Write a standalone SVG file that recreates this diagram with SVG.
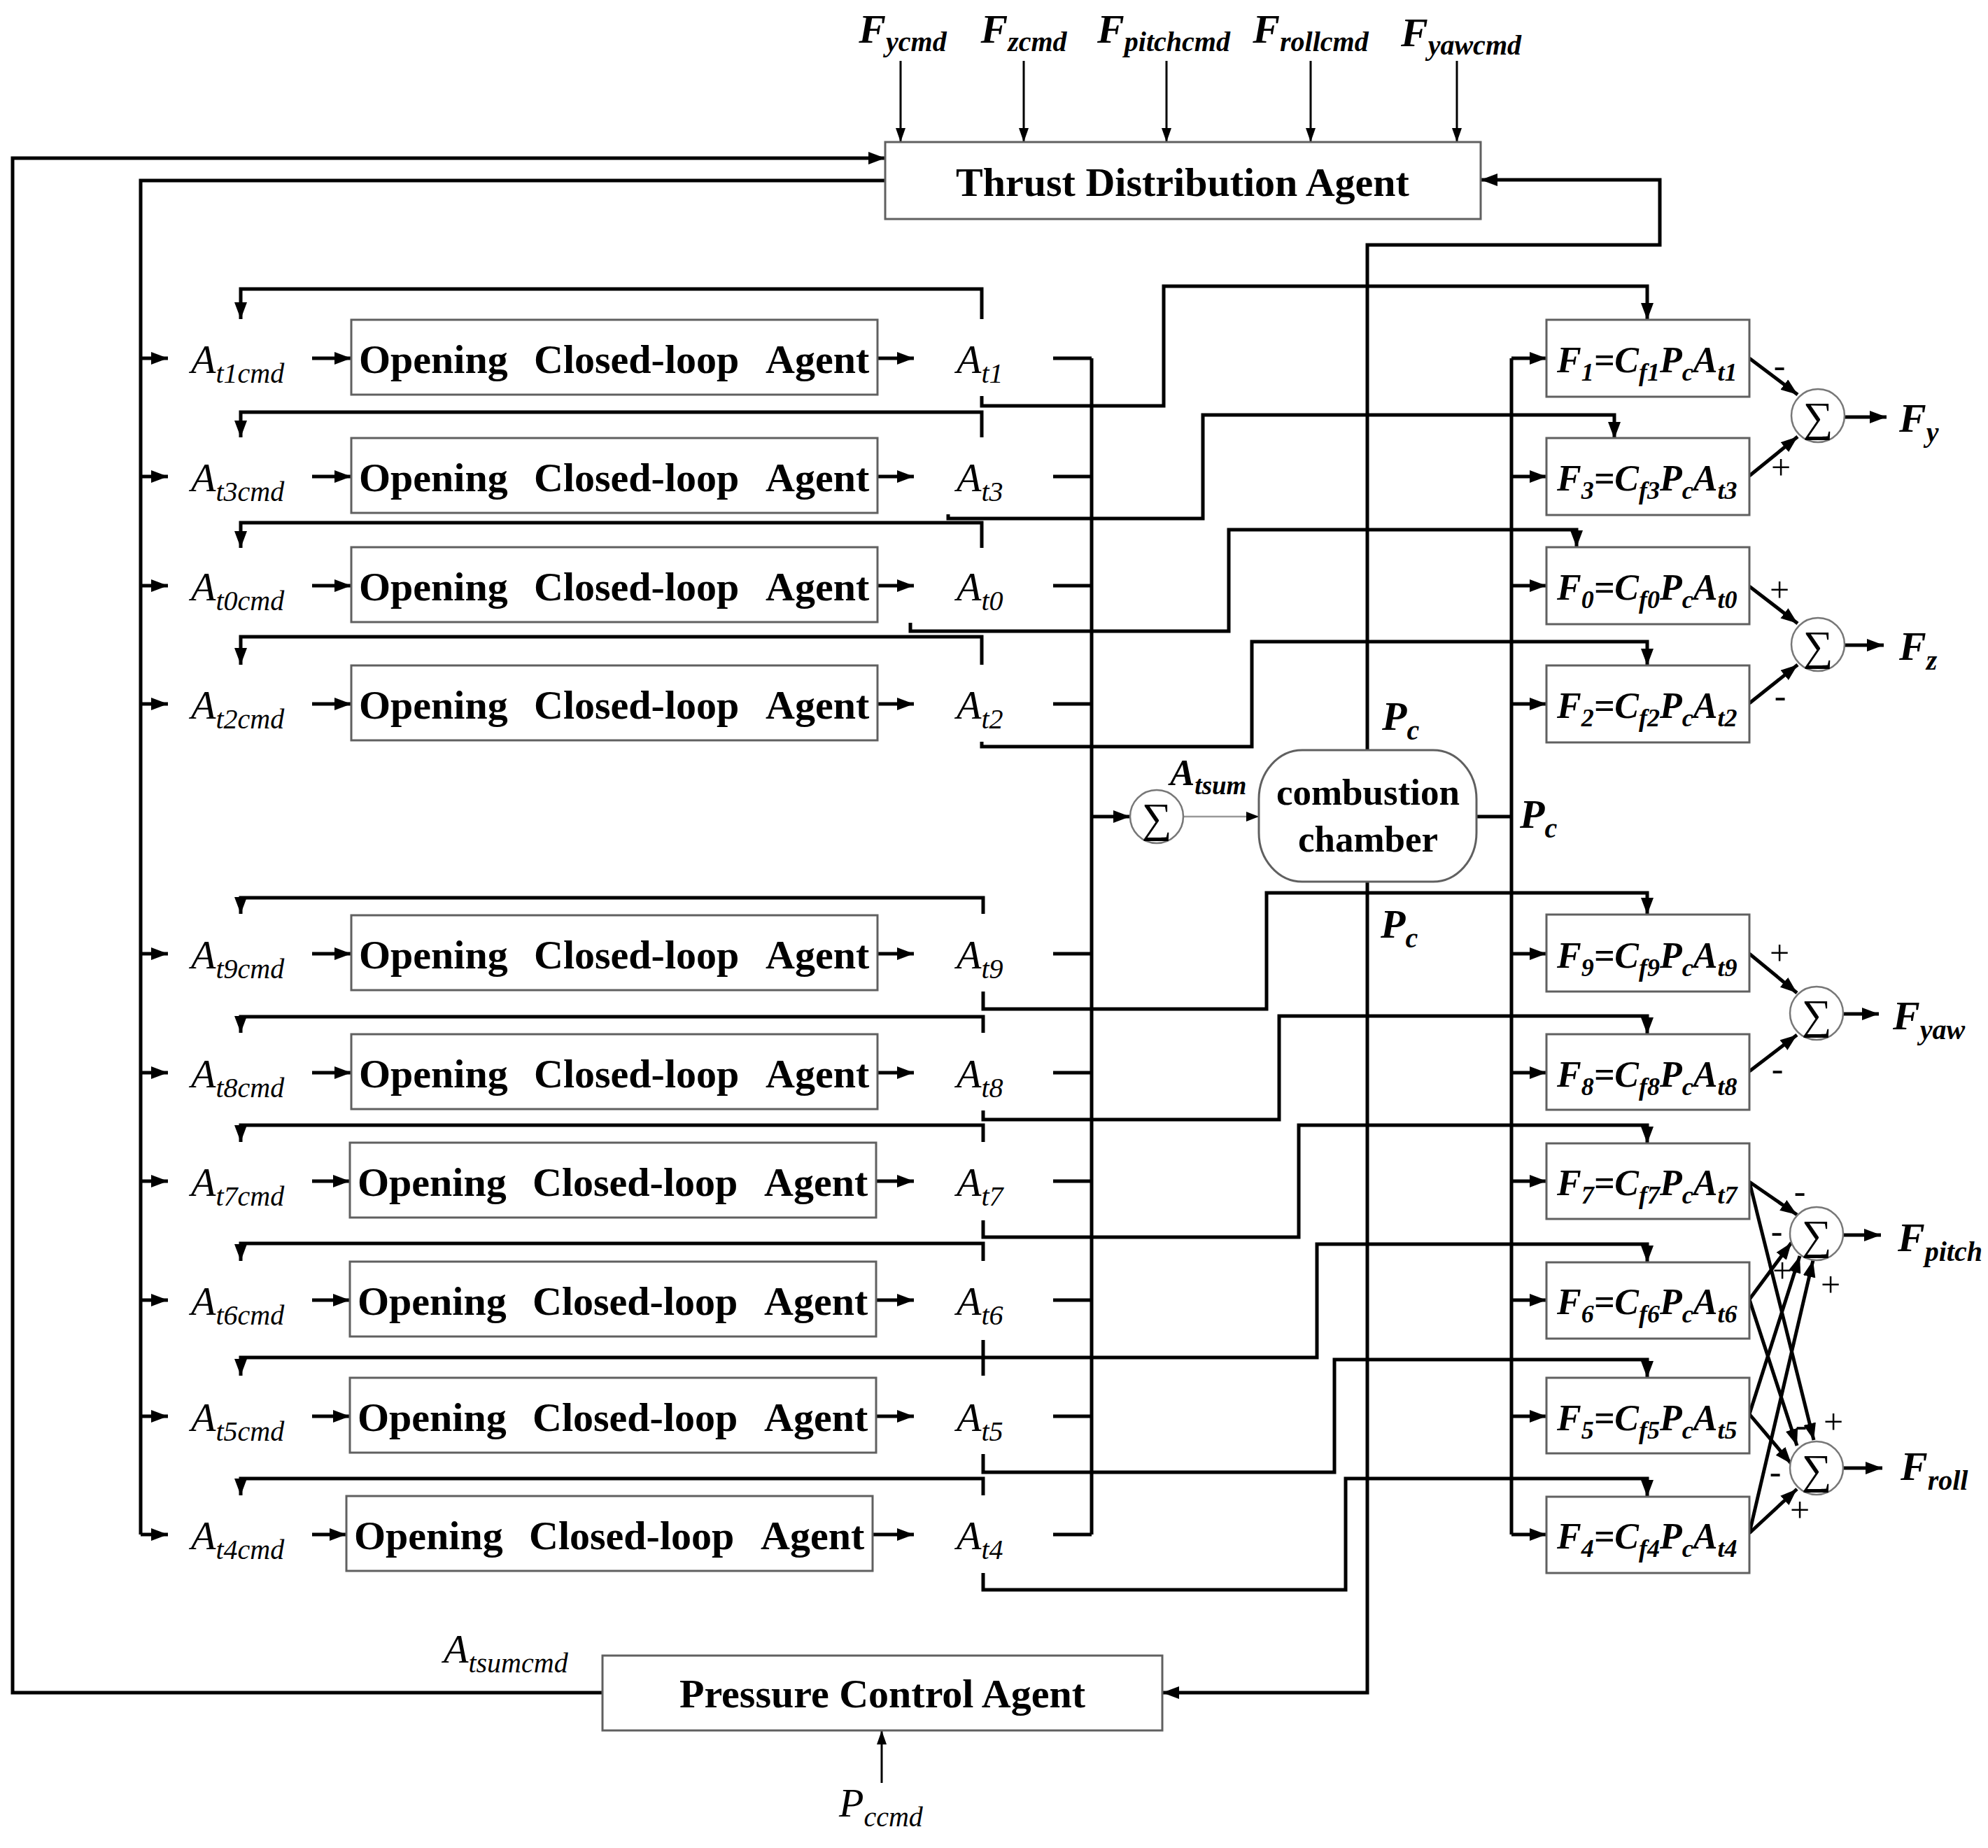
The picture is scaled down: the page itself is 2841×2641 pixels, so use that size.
<svg xmlns="http://www.w3.org/2000/svg" width="2841" height="2641" viewBox="0 0 2841 2641">
<style>
.k{stroke:#000;stroke-width:5;fill:none}
.t{stroke:#000;stroke-width:3;fill:none}
.g{stroke:#999;stroke-width:2.5;fill:none}
.box{fill:#fff;stroke:#606060;stroke-width:3}
.circ{fill:#fff;stroke:#777;stroke-width:2.5}
text{font-family:"Liberation Serif","Times New Roman",serif;fill:#000}
.ocl{font-weight:bold;font-size:58px}
.it{font-style:italic;font-size:58px}
.bi{font-style:italic;font-weight:bold;font-size:58px}
.s{font-size:40px}
.eq{font-style:italic;font-weight:bold;font-size:52px}
.eq .s{font-size:36px}
.sg{font-size:50px;text-anchor:middle}
.sum{font-size:60px;text-anchor:middle}
.c{text-anchor:middle}
</style>
<defs>
<marker id="a" markerUnits="userSpaceOnUse" markerWidth="24" markerHeight="18" viewBox="0 0 24 18" refX="24" refY="9" orient="auto"><path d="M0,0 L24,9 L0,18 z" fill="#000"/></marker>
<marker id="b" markerUnits="userSpaceOnUse" markerWidth="20" markerHeight="14" viewBox="0 0 20 14" refX="20" refY="7" orient="auto"><path d="M0,0 L20,7 L0,14 z" fill="#000"/></marker>
</defs>
<rect width="2841" height="2641" fill="#fff"/>

<g id="connectors">
<!-- top inputs -->
<path class="t" d="M1287,87 V203" marker-end="url(#b)"/>
<path class="t" d="M1463,87 V203" marker-end="url(#b)"/>
<path class="t" d="M1667,87 V203" marker-end="url(#b)"/>
<path class="t" d="M1873,87 V203" marker-end="url(#b)"/>
<path class="t" d="M2082,87 V203" marker-end="url(#b)"/>
<!-- pressure agent output to thrust agent -->
<path class="k" d="M861,2419 H18 V226 H1265" marker-end="url(#a)"/>
<!-- thrust agent to left bus -->
<path class="k" d="M1265,258 H201 V2193"/>
<!-- Pc to thrust agent -->
<path class="k" d="M1954,1072 V350 H2372 V257 H2116" marker-end="url(#a)"/>
<!-- Pc to pressure agent -->
<path class="k" d="M1954,1260 V2419 H1661" marker-end="url(#a)"/>
<!-- Pccmd -->
<path class="t" d="M1260,2548 V2473" marker-end="url(#b)"/>
<!-- Ati bus to sum -->
<path class="k" d="M1560,512 V2193"/>
<path class="k" d="M1560,1167 H1615" marker-end="url(#a)"/>
<path class="g" d="M1691,1167 H1799"/>
<path d="M1781,1160 L1799,1167 L1781,1174 z" fill="#000"/>
<!-- chamber to F bus -->
<path class="k" d="M2110,1167 H2160"/>
<path class="k" d="M2160,512 V2193"/>

<!-- rows -->
<path class="k" d="M201,512 H240" marker-end="url(#a)"/>
<path class="k" d="M446,512 H502" marker-end="url(#a)"/>
<path class="k" d="M1254,512 H1306" marker-end="url(#a)"/>
<path class="k" d="M1403,456 V413 H344 V456" marker-end="url(#a)"/>
<path class="k" d="M1505,512 H1560"/>
<path class="k" d="M1403,566 V580 H1663 V409 H2354 V457" marker-end="url(#a)"/>
<path class="k" d="M2160,512 H2210" marker-end="url(#a)"/>

<path class="k" d="M201,681 H240" marker-end="url(#a)"/>
<path class="k" d="M446,681 H502" marker-end="url(#a)"/>
<path class="k" d="M1254,681 H1306" marker-end="url(#a)"/>
<path class="k" d="M1403,625 V589 H344 V625" marker-end="url(#a)"/>
<path class="k" d="M1505,681 H1560"/>
<path class="k" d="M1355,735 V741 H1719 V593 H2307 V627" marker-end="url(#a)"/>
<path class="k" d="M2160,681 H2210" marker-end="url(#a)"/>

<path class="k" d="M201,837 H240" marker-end="url(#a)"/>
<path class="k" d="M446,837 H502" marker-end="url(#a)"/>
<path class="k" d="M1254,837 H1306" marker-end="url(#a)"/>
<path class="k" d="M1403,783 V747 H344 V783" marker-end="url(#a)"/>
<path class="k" d="M1505,837 H1560"/>
<path class="k" d="M1301,890 V902 H1756 V757 H2253 V782" marker-end="url(#a)"/>
<path class="k" d="M2160,837 H2210" marker-end="url(#a)"/>

<path class="k" d="M201,1006 H240" marker-end="url(#a)"/>
<path class="k" d="M446,1006 H502" marker-end="url(#a)"/>
<path class="k" d="M1254,1006 H1306" marker-end="url(#a)"/>
<path class="k" d="M1403,950 V910 H344 V950" marker-end="url(#a)"/>
<path class="k" d="M1505,1006 H1560"/>
<path class="k" d="M1403,1060 V1067 H1789 V917 H2354 V951" marker-end="url(#a)"/>
<path class="k" d="M2160,1006 H2210" marker-end="url(#a)"/>

<path class="k" d="M201,1363 H240" marker-end="url(#a)"/>
<path class="k" d="M446,1363 H502" marker-end="url(#a)"/>
<path class="k" d="M1254,1363 H1306" marker-end="url(#a)"/>
<path class="k" d="M1405,1306 V1283 H344 V1306" marker-end="url(#a)"/>
<path class="k" d="M1505,1363 H1560"/>
<path class="k" d="M1405,1417 V1442 H1810 V1276 H2354 V1307" marker-end="url(#a)"/>
<path class="k" d="M2160,1363 H2210" marker-end="url(#a)"/>

<path class="k" d="M201,1533 H240" marker-end="url(#a)"/>
<path class="k" d="M446,1533 H502" marker-end="url(#a)"/>
<path class="k" d="M1254,1533 H1306" marker-end="url(#a)"/>
<path class="k" d="M1405,1476 V1453 H344 V1476" marker-end="url(#a)"/>
<path class="k" d="M1505,1533 H1560"/>
<path class="k" d="M1405,1587 V1600 H1828 V1452 H2354 V1478" marker-end="url(#a)"/>
<path class="k" d="M2160,1533 H2210" marker-end="url(#a)"/>

<path class="k" d="M201,1688 H240" marker-end="url(#a)"/>
<path class="k" d="M446,1688 H500" marker-end="url(#a)"/>
<path class="k" d="M1252,1688 H1306" marker-end="url(#a)"/>
<path class="k" d="M1405,1632 V1608 H344 V1632" marker-end="url(#a)"/>
<path class="k" d="M1505,1688 H1560"/>
<path class="k" d="M1405,1744 V1768 H1856 V1608 H2354 V1634" marker-end="url(#a)"/>
<path class="k" d="M2160,1688 H2210" marker-end="url(#a)"/>

<path class="k" d="M201,1858 H240" marker-end="url(#a)"/>
<path class="k" d="M446,1858 H500" marker-end="url(#a)"/>
<path class="k" d="M1252,1858 H1306" marker-end="url(#a)"/>
<path class="k" d="M1405,1802 V1777 H344 V1802" marker-end="url(#a)"/>
<path class="k" d="M1505,1858 H1560"/>
<path class="k" d="M1405,1915 V1940 H1882 V1778 H2354 V1804" marker-end="url(#a)"/>
<path class="k" d="M2160,1858 H2210" marker-end="url(#a)"/>

<path class="k" d="M201,2024 H240" marker-end="url(#a)"/>
<path class="k" d="M446,2024 H500" marker-end="url(#a)"/>
<path class="k" d="M1252,2024 H1306" marker-end="url(#a)"/>
<path class="k" d="M1405,1966 V1940 H344 V1966" marker-end="url(#a)"/>
<path class="k" d="M1505,2024 H1560"/>
<path class="k" d="M1405,2078 V2104 H1907 V1943 H2354 V1969" marker-end="url(#a)"/>
<path class="k" d="M2160,2024 H2210" marker-end="url(#a)"/>

<path class="k" d="M201,2193 H240" marker-end="url(#a)"/>
<path class="k" d="M446,2193 H495" marker-end="url(#a)"/>
<path class="k" d="M1247,2193 H1306" marker-end="url(#a)"/>
<path class="k" d="M1405,2137 V2113 H344 V2137" marker-end="url(#a)"/>
<path class="k" d="M1505,2193 H1560"/>
<path class="k" d="M1405,2248 V2272 H1923 V2113 H2354 V2139" marker-end="url(#a)"/>
<path class="k" d="M2160,2193 H2210" marker-end="url(#a)"/>

<!-- F to sums -->
<path class="k" d="M2500,512 L2569,564" marker-end="url(#a)"/>
<path class="k" d="M2500,680 L2569,624" marker-end="url(#a)"/>
<path class="k" d="M2500,838 L2569,891" marker-end="url(#a)"/>
<path class="k" d="M2500,1005 L2569,950" marker-end="url(#a)"/>
<path class="k" d="M2500,1363 L2568,1419" marker-end="url(#a)"/>
<path class="k" d="M2500,1531 L2568,1479" marker-end="url(#a)"/>
<path class="k" d="M2500,1689 L2568,1736" marker-end="url(#a)"/>
<path class="k" d="M2500,1689 L2592,2058" marker-end="url(#a)"/>
<path class="k" d="M2500,1857 L2560,1776" marker-end="url(#a)"/>
<path class="k" d="M2500,1857 L2568,2066" marker-end="url(#a)"/>
<path class="k" d="M2500,2021 L2572,1795" marker-end="url(#a)"/>
<path class="k" d="M2500,2021 L2560,2092" marker-end="url(#a)"/>
<path class="k" d="M2500,2191 L2591,1801" marker-end="url(#a)"/>
<path class="k" d="M2500,2191 L2568,2128" marker-end="url(#a)"/>
<!-- sums to outputs -->
<path class="k" d="M2636,596 H2696" marker-end="url(#a)"/>
<path class="k" d="M2636,922 H2692" marker-end="url(#a)"/>
<path class="k" d="M2634,1449 H2685" marker-end="url(#a)"/>
<path class="k" d="M2634,1765 H2688" marker-end="url(#a)"/>
<path class="k" d="M2634,2098 H2690" marker-end="url(#a)"/>
</g>

<g id="thrust-distribution-agent">
<rect class="box" x="1265" y="203" width="851" height="110"/>
<text class="ocl c" x="1690" y="280">Thrust Distribution Agent</text>
</g>
<g id="pressure-control-agent">
<rect class="box" x="861" y="2366" width="800" height="107"/>
<text class="ocl c" x="1261" y="2440">Pressure Control Agent</text>
</g>
<g id="combustion-chamber">
<rect class="box" x="1799" y="1072" width="311" height="188" rx="62" ry="70"/>
<text class="ocl c" x="1955" y="1150" style="font-size:53px">combustion</text>
<text class="ocl c" x="1955" y="1217" style="font-size:53px">chamber</text>
</g>
<g id="sum-atsum">
<circle class="circ" cx="1653" cy="1167" r="38"/>
<text class="sum" x="1653" y="1189">∑</text>
</g>
<g id="sum-fy"><circle class="circ" cx="2598" cy="594" r="38"/><text class="sum" x="2598" y="616">∑</text></g>
<g id="sum-fz"><circle class="circ" cx="2598" cy="921" r="38"/><text class="sum" x="2598" y="943">∑</text></g>
<g id="sum-fyaw"><circle class="circ" cx="2596" cy="1448" r="38"/><text class="sum" x="2596" y="1470">∑</text></g>
<g id="sum-fpitch"><circle class="circ" cx="2596" cy="1763" r="38"/><text class="sum" x="2596" y="1785">∑</text></g>
<g id="sum-froll"><circle class="circ" cx="2596" cy="2098" r="38"/><text class="sum" x="2596" y="2120">∑</text></g>

<!-- Opening closed-loop agents -->
<g id="ocl-t1"><rect class="box" x="502" y="457" width="752" height="107"/><text class="ocl" y="533"><tspan x="513">Opening</tspan><tspan x="763">Closed-loop</tspan><tspan x="1094">Agent</tspan></text></g>
<g id="ocl-t3"><rect class="box" x="502" y="626" width="752" height="107"/><text class="ocl" y="702"><tspan x="513">Opening</tspan><tspan x="763">Closed-loop</tspan><tspan x="1094">Agent</tspan></text></g>
<g id="ocl-t0"><rect class="box" x="502" y="782" width="752" height="107"/><text class="ocl" y="858"><tspan x="513">Opening</tspan><tspan x="763">Closed-loop</tspan><tspan x="1094">Agent</tspan></text></g>
<g id="ocl-t2"><rect class="box" x="502" y="951" width="752" height="107"/><text class="ocl" y="1027"><tspan x="513">Opening</tspan><tspan x="763">Closed-loop</tspan><tspan x="1094">Agent</tspan></text></g>
<g id="ocl-t9"><rect class="box" x="502" y="1308" width="752" height="107"/><text class="ocl" y="1384"><tspan x="513">Opening</tspan><tspan x="763">Closed-loop</tspan><tspan x="1094">Agent</tspan></text></g>
<g id="ocl-t8"><rect class="box" x="502" y="1478" width="752" height="107"/><text class="ocl" y="1554"><tspan x="513">Opening</tspan><tspan x="763">Closed-loop</tspan><tspan x="1094">Agent</tspan></text></g>
<g id="ocl-t7"><rect class="box" x="500" y="1633" width="752" height="107"/><text class="ocl" y="1709"><tspan x="511">Opening</tspan><tspan x="761">Closed-loop</tspan><tspan x="1092">Agent</tspan></text></g>
<g id="ocl-t6"><rect class="box" x="500" y="1803" width="752" height="107"/><text class="ocl" y="1879"><tspan x="511">Opening</tspan><tspan x="761">Closed-loop</tspan><tspan x="1092">Agent</tspan></text></g>
<g id="ocl-t5"><rect class="box" x="500" y="1969" width="752" height="107"/><text class="ocl" y="2045"><tspan x="511">Opening</tspan><tspan x="761">Closed-loop</tspan><tspan x="1092">Agent</tspan></text></g>
<g id="ocl-t4"><rect class="box" x="495" y="2138" width="752" height="107"/><text class="ocl" y="2214"><tspan x="506">Opening</tspan><tspan x="756">Closed-loop</tspan><tspan x="1087">Agent</tspan></text></g>

<!-- F equation boxes -->
<g id="f1"><rect class="box" x="2210" y="457" width="290" height="110"/><text class="eq" x="2225" y="532">F<tspan class="s" dy="12">1</tspan><tspan dy="-12">=C</tspan><tspan class="s" dy="12">f1</tspan><tspan dy="-12">P</tspan><tspan class="s" dy="12">c</tspan><tspan dy="-12">A</tspan><tspan class="s" dy="12">t1</tspan></text></g>
<g id="f3"><rect class="box" x="2210" y="626" width="290" height="110"/><text class="eq" x="2225" y="701">F<tspan class="s" dy="12">3</tspan><tspan dy="-12">=C</tspan><tspan class="s" dy="12">f3</tspan><tspan dy="-12">P</tspan><tspan class="s" dy="12">c</tspan><tspan dy="-12">A</tspan><tspan class="s" dy="12">t3</tspan></text></g>
<g id="f0"><rect class="box" x="2210" y="782" width="290" height="110"/><text class="eq" x="2225" y="857">F<tspan class="s" dy="12">0</tspan><tspan dy="-12">=C</tspan><tspan class="s" dy="12">f0</tspan><tspan dy="-12">P</tspan><tspan class="s" dy="12">c</tspan><tspan dy="-12">A</tspan><tspan class="s" dy="12">t0</tspan></text></g>
<g id="f2"><rect class="box" x="2210" y="951" width="290" height="110"/><text class="eq" x="2225" y="1026">F<tspan class="s" dy="12">2</tspan><tspan dy="-12">=C</tspan><tspan class="s" dy="12">f2</tspan><tspan dy="-12">P</tspan><tspan class="s" dy="12">c</tspan><tspan dy="-12">A</tspan><tspan class="s" dy="12">t2</tspan></text></g>
<g id="f9"><rect class="box" x="2210" y="1307" width="290" height="110"/><text class="eq" x="2225" y="1383">F<tspan class="s" dy="12">9</tspan><tspan dy="-12">=C</tspan><tspan class="s" dy="12">f9</tspan><tspan dy="-12">P</tspan><tspan class="s" dy="12">c</tspan><tspan dy="-12">A</tspan><tspan class="s" dy="12">t9</tspan></text></g>
<g id="f8"><rect class="box" x="2210" y="1478" width="290" height="108"/><text class="eq" x="2225" y="1553">F<tspan class="s" dy="12">8</tspan><tspan dy="-12">=C</tspan><tspan class="s" dy="12">f8</tspan><tspan dy="-12">P</tspan><tspan class="s" dy="12">c</tspan><tspan dy="-12">A</tspan><tspan class="s" dy="12">t8</tspan></text></g>
<g id="f7"><rect class="box" x="2210" y="1634" width="290" height="108"/><text class="eq" x="2225" y="1708">F<tspan class="s" dy="12">7</tspan><tspan dy="-12">=C</tspan><tspan class="s" dy="12">f7</tspan><tspan dy="-12">P</tspan><tspan class="s" dy="12">c</tspan><tspan dy="-12">A</tspan><tspan class="s" dy="12">t7</tspan></text></g>
<g id="f6"><rect class="box" x="2210" y="1804" width="290" height="109"/><text class="eq" x="2225" y="1878">F<tspan class="s" dy="12">6</tspan><tspan dy="-12">=C</tspan><tspan class="s" dy="12">f6</tspan><tspan dy="-12">P</tspan><tspan class="s" dy="12">c</tspan><tspan dy="-12">A</tspan><tspan class="s" dy="12">t6</tspan></text></g>
<g id="f5"><rect class="box" x="2210" y="1969" width="290" height="108"/><text class="eq" x="2225" y="2044">F<tspan class="s" dy="12">5</tspan><tspan dy="-12">=C</tspan><tspan class="s" dy="12">f5</tspan><tspan dy="-12">P</tspan><tspan class="s" dy="12">c</tspan><tspan dy="-12">A</tspan><tspan class="s" dy="12">t5</tspan></text></g>
<g id="f4"><rect class="box" x="2210" y="2139" width="290" height="109"/><text class="eq" x="2225" y="2213">F<tspan class="s" dy="12">4</tspan><tspan dy="-12">=C</tspan><tspan class="s" dy="12">f4</tspan><tspan dy="-12">P</tspan><tspan class="s" dy="12">c</tspan><tspan dy="-12">A</tspan><tspan class="s" dy="12">t4</tspan></text></g>

<g id="labels">
<!-- top commands -->
<text class="bi c" x="1290" y="61">F<tspan class="s" dy="12">ycmd</tspan></text>
<text class="bi c" x="1463" y="61">F<tspan class="s" dy="12">zcmd</tspan></text>
<text class="bi c" x="1663" y="61">F<tspan class="s" dy="12">pitchcmd</tspan></text>
<text class="bi c" x="1873" y="61">F<tspan class="s" dy="12">rollcmd</tspan></text>
<text class="bi c" x="2088" y="66">F<tspan class="s" dy="12">yawcmd</tspan></text>
<!-- command labels -->
<text class="it" x="273" y="533">A<tspan class="s" dy="14">t1cmd</tspan></text>
<text class="it" x="273" y="702">A<tspan class="s" dy="14">t3cmd</tspan></text>
<text class="it" x="273" y="858">A<tspan class="s" dy="14">t0cmd</tspan></text>
<text class="it" x="273" y="1027">A<tspan class="s" dy="14">t2cmd</tspan></text>
<text class="it" x="273" y="1384">A<tspan class="s" dy="14">t9cmd</tspan></text>
<text class="it" x="273" y="1554">A<tspan class="s" dy="14">t8cmd</tspan></text>
<text class="it" x="273" y="1709">A<tspan class="s" dy="14">t7cmd</tspan></text>
<text class="it" x="273" y="1879">A<tspan class="s" dy="14">t6cmd</tspan></text>
<text class="it" x="273" y="2045">A<tspan class="s" dy="14">t5cmd</tspan></text>
<text class="it" x="273" y="2214">A<tspan class="s" dy="14">t4cmd</tspan></text>
<!-- outputs -->
<text class="it" x="1367" y="533">A<tspan class="s" dy="14">t1</tspan></text>
<text class="it" x="1367" y="702">A<tspan class="s" dy="14">t3</tspan></text>
<text class="it" x="1367" y="858">A<tspan class="s" dy="14">t0</tspan></text>
<text class="it" x="1367" y="1027">A<tspan class="s" dy="14">t2</tspan></text>
<text class="it" x="1367" y="1384">A<tspan class="s" dy="14">t9</tspan></text>
<text class="it" x="1367" y="1554">A<tspan class="s" dy="14">t8</tspan></text>
<text class="it" x="1367" y="1709">A<tspan class="s" dy="14">t7</tspan></text>
<text class="it" x="1367" y="1879">A<tspan class="s" dy="14">t6</tspan></text>
<text class="it" x="1367" y="2045">A<tspan class="s" dy="14">t5</tspan></text>
<text class="it" x="1367" y="2214">A<tspan class="s" dy="14">t4</tspan></text>
<!-- chamber labels -->
<text class="bi" x="1672" y="1122" style="font-size:53px">A<tspan class="s" dy="13" style="font-size:37px">tsum</tspan></text>
<text class="bi" x="1975" y="1043">P<tspan class="s" dy="14">c</tspan></text>
<text class="bi" x="2172" y="1183">P<tspan class="s" dy="14">c</tspan></text>
<text class="bi" x="1973" y="1340">P<tspan class="s" dy="14">c</tspan></text>
<text class="it" x="634" y="2376">A<tspan class="s" dy="14">tsumcmd</tspan></text>
<text class="it" x="1199" y="2596">P<tspan class="s" dy="14">ccmd</tspan></text>
<!-- sum outputs -->
<text class="bi" x="2714" y="617">F<tspan class="s" dy="14">y</tspan></text>
<text class="bi" x="2714" y="943">F<tspan class="s" dy="14">z</tspan></text>
<text class="bi" x="2705" y="1471">F<tspan class="s" dy="14">yaw</tspan></text>
<text class="bi" x="2712" y="1788">F<tspan class="s" dy="14">pitch</tspan></text>
<text class="bi" x="2716" y="2115">F<tspan class="s" dy="14">roll</tspan></text>
<!-- signs -->
<text class="sg" x="2543" y="539">-</text>
<text class="sg" x="2545" y="685">+</text>
<text class="sg" x="2543" y="860">+</text>
<text class="sg" x="2544" y="1011">-</text>
<text class="sg" x="2543" y="1379">+</text>
<text class="sg" x="2540" y="1544">-</text>
<text class="sg" x="2572" y="1719">-</text>
<text class="sg" x="2539" y="1776">-</text>
<text class="sg" x="2547" y="1833">+</text>
<text class="sg" x="2616" y="1853">+</text>
<text class="sg" x="2574" y="2053">-</text>
<text class="sg" x="2620" y="2049">+</text>
<text class="sg" x="2537" y="2120">-</text>
<text class="sg" x="2572" y="2175">+</text>
</g>
</svg>
